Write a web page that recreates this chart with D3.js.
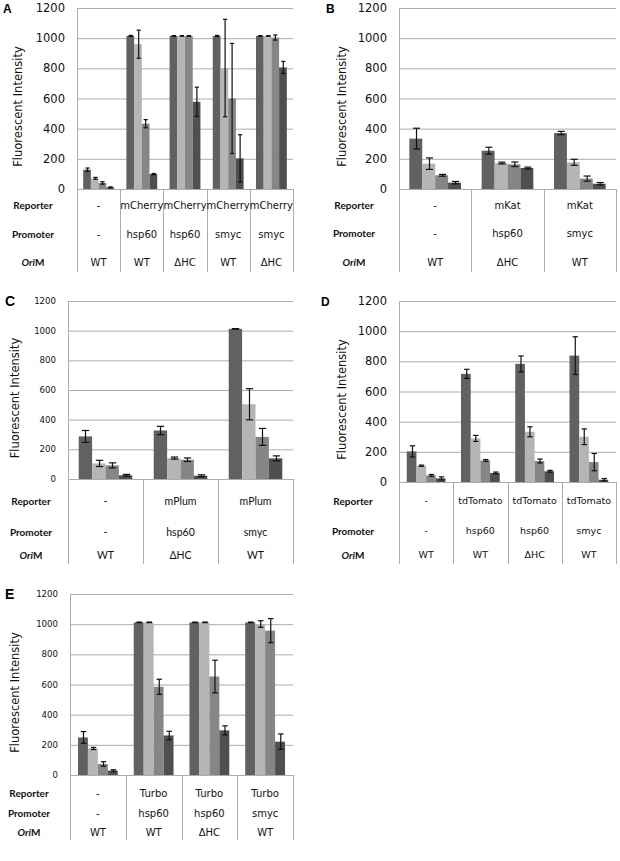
<!DOCTYPE html>
<html>
<head>
<meta charset="utf-8">
<script src="https://cdn.jsdelivr.net/npm/d3@7"></script>
<style>
    body { margin: 0; background: #fff; }
    svg { display: block; }
</style>
</head>
<body>
<svg id="fig" width="620" height="861"></svg>
<script>
// values (4 series per construct)
var seriesColors = ['#616161', '#b5b5b5', '#868686', '#4f4f4f'];
var yTicks = [0, 200, 400, 600, 800, 1000, 1200];
var rowNames = ['Reporter', 'Promoter', 'OriM'];

var aReporter = ['-', 'mCherry', 'mCherry', 'mCherry', 'mCherry'];
var aPromoter = ['-', 'hsp60', 'hsp60', 'smyc', 'smyc'];
var aOriM = ['WT', 'WT', '\u0394HC', 'WT', '\u0394HC'];
var aValues = [[128, 71, 40, 11], [1015, 960, 433, 99], [1015, 1015, 1015, 578], [1015, 802, 600, 203], [1015, 1015, 1004, 806]];
var aErrors = [[11, 6, 8, 3], [3, 93, 27, 4], [2, 2, 2, 97], [3, 323, 365, 157], [2, 2, 17, 40]];

var bReporter = ['-', 'mKat', 'mKat'];
var bPromoter = ['-', 'hsp60', 'smyc'];
var bOriM = ['WT', '\u0394HC', 'WT'];
var bValues = [[334, 168, 91, 42], [254, 172, 164, 139], [371, 177, 69, 35]];
var bErrors = [[69, 38, 6, 8], [23, 6, 15, 6], [11, 20, 17, 8]];

var cReporter = ['-', 'mPlum', 'mPlum'];
var cPromoter = ['-', 'hsp60', 'smyc'];
var cOriM = ['WT', '\u0394HC', 'WT'];
var cValues = [[287, 105, 92, 25], [327, 141, 130, 22], [1012, 504, 284, 139]];
var cErrors = [[40, 21, 17, 6], [28, 7, 12, 6], [2, 105, 57, 17]];

var dReporter = ['-', 'tdTomato', 'tdTomato', 'tdTomato'];
var dPromoter = ['-', 'hsp60', 'hsp60', 'smyc'];
var dOriM = ['WT', 'WT', '\u0394HC', 'WT'];
var dValues = [[203, 108, 44, 24], [717, 289, 143, 60], [783, 333, 139, 71], [838, 300, 132, 15]];
var dErrors = [[37, 4, 6, 10], [30, 20, 6, 6], [53, 33, 13, 6], [125, 52, 57, 8]];

var eReporter = ['-', 'Turbo', 'Turbo', 'Turbo'];
var ePromoter = ['-', 'hsp60', 'hsp60', 'smyc'];
var eOriM = ['WT', 'WT', '\u0394HC', 'WT'];
var eValues = [[249, 176, 73, 29], [1012, 1012, 585, 262], [1012, 1012, 653, 296], [1012, 1001, 957, 221]];
var eErrors = [[39, 7, 15, 6], [2, 2, 50, 28], [2, 2, 108, 30], [2, 22, 80, 51]];

var verdana = 'DejaVu Sans, Verdana, sans-serif';
var calibri = 'Lato, Carlito, sans-serif';

var panels = [
    {letter: 'A', rows: [aReporter, aPromoter, aOriM], values: aValues, errors: aErrors,
     left: 77, right: 293, top: 8, zero: 189, bottom: 272, rowY: [205, 234, 262], labelX: 33,
     letterX: 3, letterSize: 12, titleX: 18, tickSize: 11.5, catSize: 10, catFont: verdana},
    {letter: 'B', rows: [bReporter, bPromoter, bOriM], values: bValues, errors: bErrors,
     left: 399, right: 616, top: 8, zero: 189, bottom: 272, rowY: [205, 233, 262], labelX: 354,
     letterX: 326, letterSize: 12, titleX: 342, tickSize: 11.5, catSize: 10, catFont: verdana},
    {letter: 'C', rows: [cReporter, cPromoter, cOriM], values: cValues, errors: cErrors,
     left: 68, right: 293, top: 301, zero: 479, bottom: 564, rowY: [501, 532, 555], labelX: 31,
     letterX: 5, letterSize: 14, titleX: 15, tickSize: 8.6, catSize: 10.5, catFont: calibri},
    {letter: 'D', rows: [dReporter, dPromoter, dOriM], values: dValues, errors: dErrors,
     left: 399, right: 616, top: 301, zero: 482, bottom: 564, rowY: [501, 531, 555], labelX: 353,
     letterX: 321, letterSize: 12, titleX: 342, tickSize: 11.5, catSize: 9.5, catFont: verdana},
    {letter: 'E', rows: [eReporter, ePromoter, eOriM], values: eValues, errors: eErrors,
     left: 70, right: 293, top: 594, zero: 775, bottom: 840, rowY: [793, 813, 832], labelX: 29,
     letterX: 5, letterSize: 14, titleX: 15, tickSize: 8.6, catSize: 10, catFont: verdana}
];

var svg = d3.select('#fig');
var gridColor = '#acacac';

panels.forEach(function (p) {
    var g = svg.append('g');
    var cats = d3.range(p.values.length);

    var x = d3.scaleBand().domain(cats).range([p.left, p.right]).padding(0);
    var xs = d3.scaleBand().domain(d3.range(4)).range([0, x.bandwidth()])
        .paddingInner(0).paddingOuter(0.8);
    var y = d3.scaleLinear().domain([0, 1200]).range([p.zero, p.top]);

    // gridlines
    g.selectAll('.grid').data(yTicks).enter().append('line')
        .attr('x1', p.left).attr('x2', p.right)
        .attr('y1', d => y(d) + 0.5).attr('y2', d => y(d) + 0.5)
        .attr('stroke', gridColor).attr('stroke-width', 1);

    // tick labels
    g.selectAll('.tick').data(yTicks).enter().append('text')
        .attr('x', p.left - 12)
        .attr('y', d => y(d))
        .attr('dy', '0.36em')
        .attr('text-anchor', 'end')
        .style('font-family', verdana)
        .style('font-size', p.tickSize + 'px')
        .attr('fill', '#111')
        .text(d => d);

    // axis title
    g.append('text')
        .attr('transform', 'translate(' + p.titleX + ',' + ((p.top + p.zero) / 2 + 8) + ') rotate(-90)')
        .attr('text-anchor', 'middle')
        .attr('dy', '0.36em')
        .style('font-family', verdana)
        .style('font-size', '11.5px')
        .attr('fill', '#111')
        .text('Fluorescent Intensity');

    // panel letter
    g.append('text')
        .attr('x', p.letterX).attr('y', p.top + 5)
        .style('font-family', 'Liberation Sans, Arial, sans-serif')
        .style('font-weight', 'bold')
        .style('font-size', p.letterSize + 'px')
        .text(p.letter);

    // bars
    var groups = g.selectAll('.cat').data(p.values).enter().append('g')
        .attr('transform', (d, i) => 'translate(' + x(i) + ',0)');

    groups.selectAll('rect').data(d => d).enter().append('rect')
        .attr('x', (d, j) => xs(j))
        .attr('width', xs.bandwidth())
        .attr('y', d => y(d))
        .attr('height', d => p.zero - y(d))
        .attr('fill', (d, j) => seriesColors[j]);

    // error bars
    var capW = Math.max(4, xs.bandwidth() * 0.55);
    groups.each(function (vals, i) {
        var eg = d3.select(this);
        vals.forEach(function (v, j) {
            var e = p.errors[i][j];
            var cx = Math.round(xs(j) + xs.bandwidth() / 2) + 0.5;
            var lo = y(Math.max(0, v - e)), hi = y(v + e);
            eg.append('line').attr('x1', cx).attr('x2', cx).attr('y1', lo).attr('y2', hi)
                .attr('stroke', '#111').attr('stroke-width', 1.2);
            [lo, hi].forEach(function (yy) {
                eg.append('line').attr('x1', cx - capW / 2).attr('x2', cx + capW / 2)
                    .attr('y1', yy).attr('y2', yy)
                    .attr('stroke', '#111').attr('stroke-width', 1.2);
            });
        });
    });

    // zero line and axis
    g.append('line').attr('x1', p.left).attr('x2', p.right)
        .attr('y1', p.zero + 0.5).attr('y2', p.zero + 0.5)
        .attr('stroke', gridColor);
    g.append('line').attr('x1', p.left + 0.5).attr('x2', p.left + 0.5)
        .attr('y1', p.top).attr('y2', p.bottom)
        .attr('stroke', gridColor);

    // table separators below the axis
    g.selectAll('.sep').data(cats.concat([cats.length])).enter().append('line')
        .attr('x1', d => Math.round(p.left + d * x.step()) + 0.5)
        .attr('x2', d => Math.round(p.left + d * x.step()) + 0.5)
        .attr('y1', p.zero).attr('y2', p.bottom)
        .attr('stroke', gridColor);

    // row labels
    rowNames.forEach(function (name, r) {
        var t = g.append('text')
            .attr('x', p.labelX).attr('y', p.rowY[r])
            .attr('dy', '0.36em')
            .attr('text-anchor', 'middle')
            .style('font-family', calibri)
            .style('font-weight', 'bold')
            .style('font-size', '10px')
            .attr('fill', '#111');
        if (name === 'OriM') {
            t.append('tspan').style('font-style', 'italic').text('Ori');
            t.append('tspan').text('M');
        } else {
            t.text(name);
        }

        g.selectAll('.row' + r).data(p.rows[r]).enter().append('text')
            .attr('x', (d, i) => x(i) + x.bandwidth() / 2)
            .attr('y', p.rowY[r])
            .attr('dy', '0.36em')
            .attr('text-anchor', 'middle')
            .style('font-family', p.catFont)
            .style('font-size', p.catSize + 'px')
            .attr('fill', '#111')
            .text(d => d);
    });
});
</script>
</body>
</html>
